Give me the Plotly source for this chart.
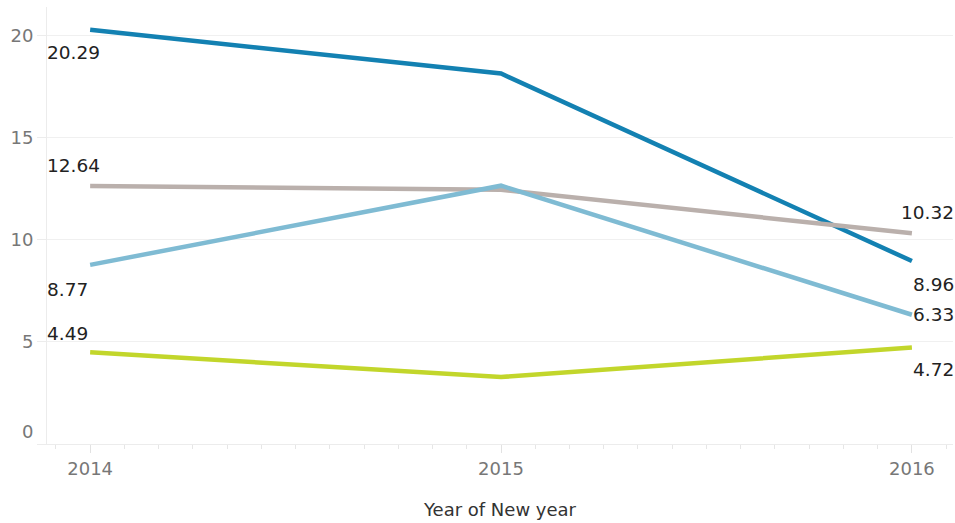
import plotly.graph_objects as go

years = [2014, 2015, 2016]
series_names = ["Series A", "Series B", "Series C", "Series D"]
values_a = [20.29, 18.14, 8.96]
values_b = [12.64, 12.45, 10.32]
values_c = [8.77, 12.65, 6.33]
values_d = [4.49, 3.28, 4.72]
colors = ["#1381b2", "#bab0ac", "#7fbbd3", "#c2d62b"]

# label placement: (first label vertical offset, last label vertical offset) in px
label_shifts = [(-23, -23), (20, 21), (-25, 0), (19, -22)]

FONT = "DejaVu Sans"
fig = go.Figure()
all_values = [values_a, values_b, values_c, values_d]
for name, vals, col in zip(series_names, all_values, colors):
    fig.add_trace(go.Scatter(
        x=years, y=vals, mode="lines", name=name,
        line=dict(color=col, width=4.5), showlegend=False,
    ))

annotations = []
for vals, (s0, s1) in zip(all_values, label_shifts):
    annotations.append(dict(
        x=years[0], y=vals[0], xref="x", yref="y", text=f"{vals[0]:.2f}",
        showarrow=False, xanchor="left", yanchor="middle", xshift=-45, yshift=s0,
        font=dict(family=FONT, size=18.5, color="#222222"),
    ))
    annotations.append(dict(
        x=years[-1], y=vals[-1], xref="x", yref="y", text=f"{vals[-1]:.2f}",
        showarrow=False, xanchor="right", yanchor="middle", xshift=44, yshift=s1,
        font=dict(family=FONT, size=18.5, color="#222222"),
    ))
# zero label sits slightly above the baseline
annotations.append(dict(
    x=0, y=0, xref="paper", yref="y", text="0", showarrow=False,
    xanchor="right", yanchor="middle", xshift=-12, yshift=13,
    font=dict(family=FONT, size=18, color="#777777"),
))

fig.update_layout(
    width=955, height=523,
    margin=dict(l=47, r=2, t=7, b=79),
    plot_bgcolor="white", paper_bgcolor="white",
    annotations=annotations,
    font=dict(family=FONT),
)
fig.update_xaxes(
    range=[2013.895, 2016.1], tickvals=years, ticktext=[str(y) for y in years],
    showgrid=False, zeroline=False,
    showline=True, linecolor="#ececec", linewidth=1,
    ticks="outside", ticklen=8, tickcolor="#e2e2e2",
    minor=dict(dtick=1/12, tick0=2014, ticks="outside", ticklen=4, tickcolor="#e6e6e6"),
    tickfont=dict(family=FONT, size=18, color="#777777"),
    title=dict(text="Year of New year", font=dict(family=FONT, size=18, color="#333333"), standoff=25),
)
fig.update_yaxes(
    range=[0, 21.4], tickvals=[0, 5, 10, 15, 20], ticktext=["", "5", "10", "15", "20"],
    showgrid=True, gridcolor="#f0f0f0", zeroline=False,
    showline=True, linecolor="#ececec", linewidth=1,
    ticks="outside", ticklen=9, tickcolor="#ececec",
    tickfont=dict(family=FONT, size=18, color="#777777"),
)

fig.write_html("out.html")
